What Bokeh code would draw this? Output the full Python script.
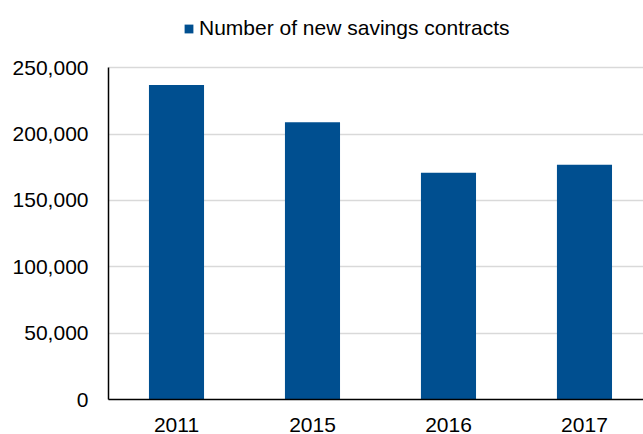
from bokeh.plotting import figure
from bokeh.models import ColumnDataSource, Range1d, FixedTicker, NumeralTickFormatter, Legend, LegendItem
from bokeh.embed import file_html
from bokeh.resources import INLINE

categories = ["2011", "2015", "2016", "2017"]
contracts = [237000, 209000, 171000, 177000]
series_name = "Number of new savings contracts"
y_ticks = [0, 50000, 100000, 150000, 200000, 250000]

positions = list(range(1, len(categories) + 1))
src = ColumnDataSource(dict(x=positions, top=contracts, label=categories))

p = figure(width=643, height=434, output_backend="svg", toolbar_location=None,
           x_range=Range1d(0.5, 4.434), y_range=Range1d(0, 300750),
           min_border_left=108, min_border_right=0, min_border_top=0, min_border_bottom=34)
p.outline_line_color = None

r = p.vbar(x="x", top="top", width=0.405, source=src, fill_color="#004F90", line_color=None)

font = "Liberation Sans"
p.xaxis.ticker = FixedTicker(ticks=positions)
p.xaxis.major_label_overrides = {pos: c for pos, c in zip(positions, categories)}
p.yaxis.ticker = FixedTicker(ticks=y_ticks)
p.yaxis.formatter = NumeralTickFormatter(format="0,0")
p.yaxis.bounds = (0, 250000)
for ax in (p.xaxis, p.yaxis):
    ax.major_tick_line_color = None
    ax.minor_tick_line_color = None
    ax.axis_line_color = "black"
    ax.axis_line_width = 1.5
    ax.major_label_text_font = font
    ax.major_label_text_font_size = "21px"
    ax.major_label_text_color = "black"
p.yaxis.major_label_standoff = 14
p.xaxis.major_label_standoff = 12
p.xaxis.major_label_text_line_height = 0.7
p.xgrid.grid_line_color = None
p.ygrid.grid_line_color = "#d9d9d9"
p.ygrid.grid_line_width = 1.5

legend = Legend(items=[LegendItem(label=series_name, renderers=[r])],
                location=(75, 359),
                label_text_font=font, label_text_font_size="21px",
                label_text_color="black",
                glyph_width=11, glyph_height=11, label_standoff=5,
                border_line_color=None, background_fill_alpha=0,
                padding=0, margin=0)
p.add_layout(legend)

open("out.html", "w").write(file_html(p, INLINE))
